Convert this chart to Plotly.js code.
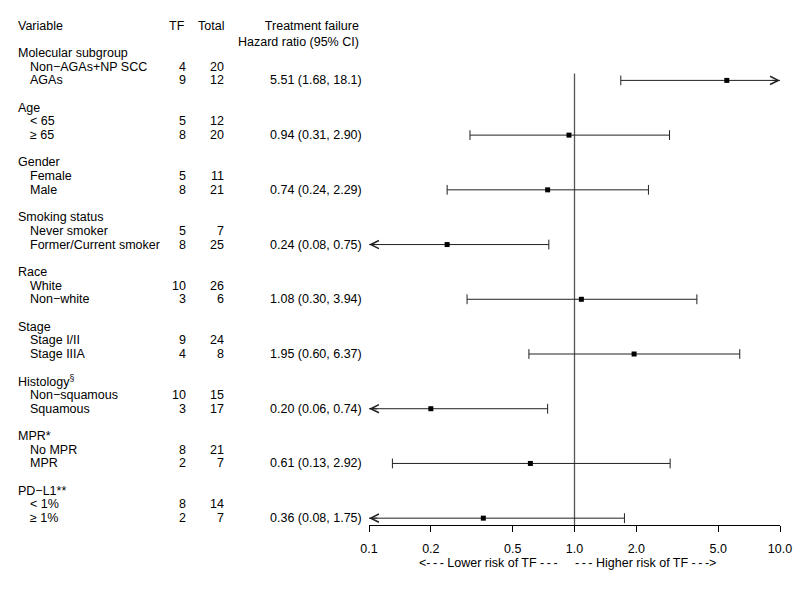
<!DOCTYPE html>
<html>
<head>
<meta charset="utf-8">
<script src="https://cdn.plot.ly/plotly-3.0.1.min.js"></script>
<style>body{margin:0;background:#fff}</style>
</head>
<body>
<div id="myPlot" style="width:800px;height:600px;"></div>
<script>
// Forest plot data: subgroups, counts and hazard ratios
const groups = ['Molecular subgroup', 'Age', 'Gender', 'Smoking status', 'Race', 'Stage',
                'Histology<sup>§</sup>', 'MPR*', 'PD\u2212L1**'];
const levels = [['Non\u2212AGAs+NP SCC', 'AGAs'], ['&lt; 65', '≥ 65'], ['Female', 'Male'],
                ['Never smoker', 'Former/Current smoker'], ['White', 'Non\u2212white'],
                ['Stage I/II', 'Stage IIIA'], ['Non\u2212squamous', 'Squamous'],
                ['No MPR', 'MPR'], ['&lt; 1%', '≥ 1%']];
const tfCounts = [[4, 9], [5, 8], [5, 8], [5, 8], [10, 3], [9, 4], [10, 3], [8, 2], [8, 2]];
const totals = [[20, 12], [12, 20], [11, 21], [7, 25], [26, 6], [24, 8], [15, 17], [21, 7], [14, 7]];
const hr = [5.51, 0.94, 0.74, 0.24, 1.08, 1.95, 0.20, 0.61, 0.36];
const lower = [1.68, 0.31, 0.24, 0.08, 0.30, 0.60, 0.06, 0.13, 0.08];
const upper = [18.1, 2.90, 2.29, 0.75, 3.94, 6.37, 0.74, 2.92, 1.75];
const tickVals = [0.1, 0.2, 0.5, 1, 2, 5, 10];
const tickText = ['0.1', '0.2', '0.5', '1.0', '2.0', '5.0', '10.0'];

const xMin = 0.1, xMax = 10;
const font = {family: 'Liberation Sans, Arial, sans-serif', size: 12.5, color: '#000'};
const lineColor = '#222';

// pixel column -> paper coordinate (plot area runs 369..780)
function px(p) { return (p - 369) / 411; }
function fmt(v) { return v >= 10 ? v.toPrecision(3) : v.toFixed(2); }

const annotations = [];
function addText(text, x, y, anchor) {
    annotations.push({text: text, x: px(x), y: y, xref: 'paper', yref: 'y',
        xanchor: anchor, yanchor: 'middle', showarrow: false, font: font,
        borderwidth: 0, borderpad: 0});
}

// header
addText('Variable', 18, 0, 'left');
addText('TF', 185, 0, 'right');
addText('Total', 224, 0, 'right');
annotations.push({text: 'Treatment failure<br>Hazard ratio (95% CI)', x: px(359), y: 0.6,
    xref: 'paper', yref: 'y', xanchor: 'right', yanchor: 'middle', align: 'right',
    showarrow: false, font: font, borderwidth: 0, borderpad: 0});

const lineX = [], lineY = [];
const capX = [], capY = [];
const ptX = [], ptY = [];

groups.forEach((g, i) => {
    const base = 2 + 4 * i;
    addText(g, 18, base, 'left');
    levels[i].forEach((lv, j) => {
        const row = base + 1 + j;
        addText(lv, 30, row, 'left');
        addText(String(tfCounts[i][j]), 186, row, 'right');
        addText(String(totals[i][j]), 224, row, 'right');
    });
    const row = base + 2;
    addText(fmt(hr[i]) + ' (' + fmt(lower[i]) + ', ' + fmt(upper[i]) + ')', 362, row, 'right');

    const lo = Math.max(lower[i], xMin);
    const hi = Math.min(upper[i], xMax);
    lineX.push(lo, hi, null);
    lineY.push(row, row, null);
    ptX.push(hr[i]);
    ptY.push(row);
    if (lower[i] >= xMin) { capX.push(lo); capY.push(row); }
    else {
        annotations.push({x: Math.log10(xMin), y: row, xref: 'x', yref: 'y', ax: 10, ay: 0,
            text: '', showarrow: true, arrowhead: 5, arrowsize: 1.6, arrowwidth: 1,
            arrowcolor: lineColor, standoff: 0});
    }
    if (upper[i] <= xMax) { capX.push(hi); capY.push(row); }
    else {
        annotations.push({x: Math.log10(xMax), y: row, xref: 'x', yref: 'y', ax: -10, ay: 0,
            text: '', showarrow: true, arrowhead: 5, arrowsize: 1.6, arrowwidth: 1,
            arrowcolor: lineColor, standoff: 0});
    }
});

// direction labels under the axis
const dash = '-\u2009-\u2009-';
const noteY = (525 - 563) / 525;
annotations.push({text: '&lt;' + dash + ' Lower risk of TF ' + dash, x: 0, y: noteY,
    xref: 'x', yref: 'paper', xanchor: 'right', xshift: -17, yanchor: 'middle',
    showarrow: false, font: font, borderwidth: 0, borderpad: 0});
annotations.push({text: dash + ' Higher risk of TF ' + dash + '&gt;', x: 0, y: noteY,
    xref: 'x', yref: 'paper', xanchor: 'left', xshift: 0, yanchor: 'middle',
    showarrow: false, font: font, borderwidth: 0, borderpad: 0});

const lastRow = 2 + 4 * (groups.length - 1) + 2;

const traces = [
    {x: [1, 1], y: [3.5, lastRow + 0.5], mode: 'lines', line: {color: '#555', width: 1.3},
     hoverinfo: 'skip'},
    {x: lineX, y: lineY, mode: 'lines', line: {color: lineColor, width: 1}, hoverinfo: 'skip'},
    {x: capX, y: capY, mode: 'markers', hoverinfo: 'skip',
     marker: {symbol: 'line-ns', size: 7, line: {color: lineColor, width: 1}}},
    {x: ptX, y: ptY, mode: 'markers',
     marker: {symbol: 'square', size: 5, color: '#000'}}
];

const layout = {
    width: 800, height: 600,
    margin: {l: 369, r: 20, t: 0, b: 75},
    showlegend: false,
    paper_bgcolor: '#fff', plot_bgcolor: '#fff',
    font: font,
    xaxis: {type: 'log', range: [-1, 1], showgrid: false, zeroline: false,
            showline: true, linecolor: '#000', linewidth: 1,
            ticks: 'outside', ticklen: 6, tickcolor: '#000',
            tickvals: tickVals, ticktext: tickText, tickfont: font, ticklabelstandoff: 6},
    yaxis: {visible: false, range: [lastRow + 0.5, lastRow + 0.5 - 525 / 13.68]},
    annotations: annotations
};

Plotly.newPlot('myPlot', traces, layout, {displayModeBar: false, staticPlot: true});
</script>
</body>
</html>
